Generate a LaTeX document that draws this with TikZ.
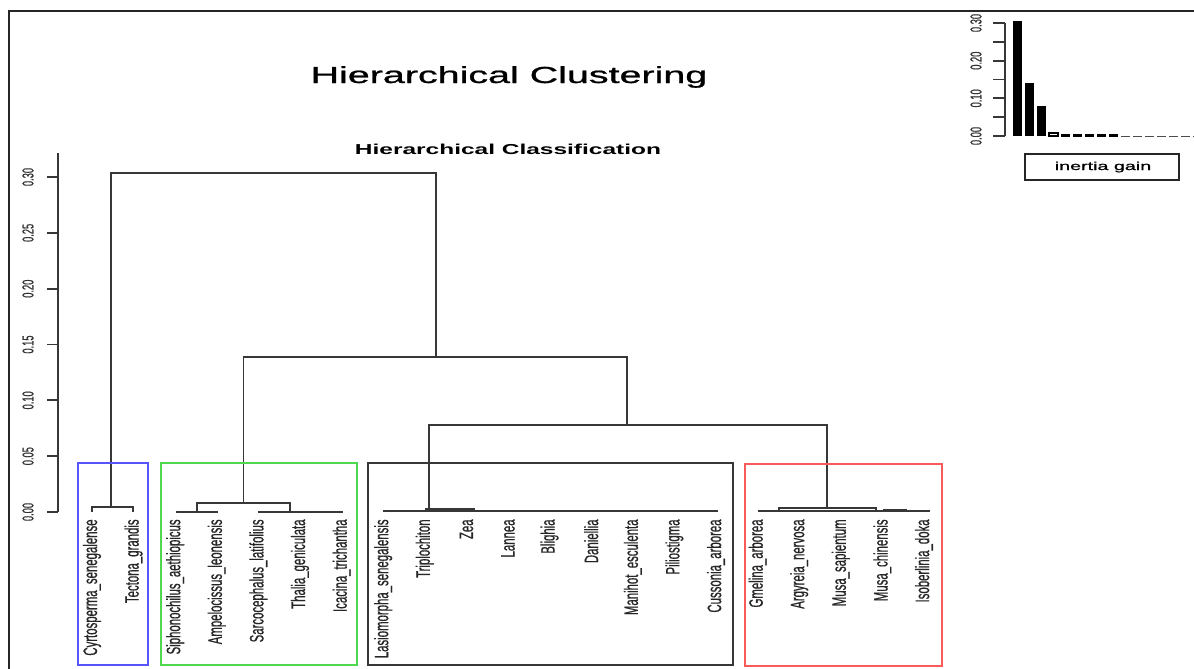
\documentclass[tikz,border=0pt]{standalone}
\usepackage{fontspec}
\setmainfont{Liberation Sans}
\newfontfamily\heavy[FakeBold=0.8]{Liberation Sans}
\usepackage{graphicx}
\newcommand\wx[1]{\scalebox{1.7}[1]{#1}}
\definecolor{dgray}{RGB}{55,55,55}
\definecolor{blueR}{RGB}{85,85,250}
\definecolor{greenR}{RGB}{80,215,80}
\definecolor{redR}{RGB}{250,90,90}
\begin{document}
\begin{tikzpicture}[x=0.5pt,y=-0.5pt,
  dline/.style={draw=dgray,line width=0.9pt},
  axline/.style={draw=dgray,line width=0.9pt},
  leaf/.style={anchor=north,inner sep=0pt,text=black!85},
  ticklab/.style={inner sep=0pt,text=black!80},
  clbox/.style={line width=1pt}]
\useasboundingbox (0,0) rectangle (1194,669);
\clip (0,0) rectangle (1194,669);
\fill[white] (0,0) rectangle (1194,669);
% frame
\draw[line width=1.2pt,black!85] (9,680) -- (9,11) -- (1200,11);
% titles
\node[inner sep=0pt] (title) at (509,77) {\wx{\fontsize{11.6}{13}\selectfont\heavy Hierarchical Clustering}};
\node[inner sep=0pt] (subtitle) at (508,149) {\wx{\fontsize{7.2}{8}\selectfont\bfseries Hierarchical Classification}};
% main y axis
\draw[axline] (58,153) -- (58,512);
\foreach \k/\lab in {0/0.00,1/0.05,2/0.10,3/0.15,4/0.20,5/0.25,6/0.30}{
  \draw[axline] (47,{512-55.83*\k}) -- (58,{512-55.83*\k});
  \node[ticklab] (ylab\k) at (28,{512-55.83*\k}) {\wx{\rotatebox{90}{\fontsize{4.65}{5}\selectfont\heavy \lab}}};
}
% leaves
\foreach \name [count=\i from 0] in {Cyrtosperma\_senegalense,Tectona\_grandis,Siphonochilus\_aethiopicus,Ampelocissus\_leonensis,Sarcocephalus\_latifolius,Thalia\_geniculata,Icacina\_trichantha,Lasiomorpha\_senegalensis,Triplochiton,Zea,Lannea,Blighia,Daniellia,Manihot\_esculenta,Piliostigma,Cussonia\_arborea,Gmelina\_arborea,Argyreia\_nervosa,Musa\_sapientum,Musa\_chinensis,Isoberlinia\_doka}{
  \node[leaf] (leaf\i) at ({92+41.6*\i},519) {\wx{\rotatebox{90}{\fontsize{5.7}{6}\selectfont\heavy \name}}};
}
% dendrogram: blue cluster and root
\draw[dline] (92,512) -- (92,507) -- (133,507) -- (133,512);
\draw[dline] (111,507) -- (111,173) -- (436,173) -- (436,357);
% green cluster
\draw[dline] (176,512) -- (218,512);
\draw[dline] (197,512) -- (197,503) -- (290,503) -- (290,512);
\draw[dline] (258,512) -- (343,512);
\draw[dline] (243.5,503) -- (243.5,357) -- (627,357) -- (627,425);
% black cluster
\draw[dline] (429,510) -- (429,425) -- (827,425) -- (827,508);
\draw[dline] (383,511) -- (718,511);
\draw[dline,line width=1.3pt] (425,509.5) -- (475,509.5);
% red cluster
\draw[dline] (758,511) -- (930,511);
\draw[dline] (779,511) -- (779,508) -- (876,508) -- (876,511);
\draw[dline,line width=1.3pt] (883,510.5) -- (907,510.5);
% cluster boxes
\draw[clbox,blueR] (78,463) rectangle (148,665);
\draw[clbox,greenR] (161,463) rectangle (357,665);
\draw[clbox,dgray] (368,463) rectangle (733,665);
\draw[clbox,redR] (745,464) rectangle (942,666);
% inertia gain barplot
\draw[axline] (1005,23) -- (1005,136);
\foreach \k in {0,...,6}{
  \draw[axline] (993,{136-18.83*\k}) -- (1005,{136-18.83*\k});
}
\foreach \k/\lab in {0/0.00,2/0.10,4/0.20,6/0.30}{
  \node[ticklab] (blab\k) at (976,{136-18.83*\k}) {\wx{\rotatebox{90}{\fontsize{4.65}{5}\selectfont\heavy \lab}}};
}
\fill[black] (1013,136) rectangle (1022,21);
\fill[black] (1025,136) rectangle (1034,83);
\fill[black] (1037,136) rectangle (1046,106);
\draw[black,line width=0.6pt] (1049,136) rectangle (1058,133);
\foreach \k in {4,...,8}{
  \draw[black,line width=1.1pt] ({1013+12*\k},135.5) -- ({1022+12*\k},135.5);
}
\foreach \k in {9,...,15}{
  \draw[black!70,line width=0.5pt] ({1013+12*\k},136) -- ({1022+12*\k},136);
}
\draw[black!85,line width=0.8pt] (1025,154) rectangle (1179,180);
\node[inner sep=0pt] (legend) at (1103,167) {\wx{\fontsize{5.8}{6}\selectfont\heavy inertia gain}};
\end{tikzpicture}
\end{document}
